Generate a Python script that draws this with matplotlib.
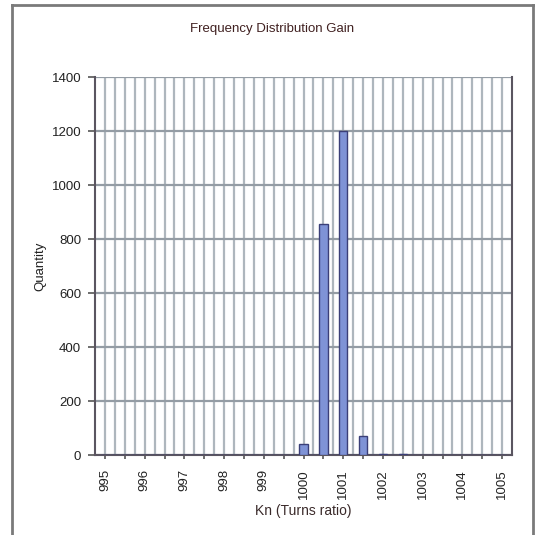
import matplotlib
matplotlib.use("Agg")
import matplotlib.pyplot as plt
from matplotlib.lines import Line2D
import numpy as np

# Turns ratio categories (995 .. 1005 step 0.25) and counts per category
kn_values = [995 + 0.25 * i for i in range(41)]
quantity = [0] * 41
quantity[20] = 40    # 1000
quantity[22] = 855   # 1000.5
quantity[24] = 1200  # 1001
quantity[26] = 70    # 1001.5
quantity[28] = 4     # 1002
quantity[30] = 3     # 1002.5

y_ticks = [0, 200, 400, 600, 800, 1000, 1200, 1400]

plt.rcParams['font.family'] = ['Liberation Sans', 'DejaVu Sans']

fig = plt.figure(figsize=(5.42, 5.35), dpi=100)
ax = fig.add_axes([0.1753, 0.1495, 0.7694, 0.7065])

x = np.arange(len(kn_values))

# vertical gridlines at every category, horizontal every 200
for xi in x:
    ax.axvline(xi, color='#aeb6bd', lw=1.6, zorder=0)
for yv in y_ticks:
    ax.axhline(yv, color='#949ca4', lw=1.6, zorder=0)

ax.bar(x, quantity, width=0.85, color='#7f93d6', edgecolor='#3b3f78',
       linewidth=1.0, zorder=3)

ax.set_xlim(-1, len(kn_values))
ax.set_ylim(0, 1400)
ax.set_yticks(y_ticks)
ax.set_yticklabels([str(v) for v in y_ticks], fontsize=9.5, color='#222222')

tick_pos = x[::2]
labels = []
for i in tick_pos:
    v = kn_values[i]
    labels.append(str(int(v)) if i % 4 == 0 else '')
ax.set_xticks(tick_pos)
ax.set_xticklabels(labels, rotation=90, fontsize=9.5, color='#222222')
ax.tick_params(axis='x', length=3, width=1.2, color='#555555', pad=7)
ax.tick_params(axis='y', length=5, width=1.2, color='#555555', pad=5)

for side in ['left', 'bottom', 'right']:
    ax.spines[side].set_color('#5a5560')
    ax.spines[side].set_linewidth(1.5)
ax.spines['top'].set_visible(False)

ax.set_ylabel('Quantity', fontsize=9.5, color='#222222', labelpad=4)
ax.set_xlabel('Kn (Turns ratio)', fontsize=10, color='#3a2a2a', labelpad=4)
fig.text(0.502, 0.945, 'Frequency Distribution Gain', ha='center',
         va='center', fontsize=9.5, color='#402020')

# outer chart frame
frame_col = '#7a7a7a'
fig.add_artist(Line2D([0.0221, 0.0221], [0.0, 0.9907], color=frame_col, lw=2))
fig.add_artist(Line2D([0.0221, 0.9834], [0.9907, 0.9907], color=frame_col, lw=2))
fig.add_artist(Line2D([0.9834, 0.9834], [0.0, 0.9907], color=frame_col, lw=2))

fig.savefig('out.png', dpi=100)
